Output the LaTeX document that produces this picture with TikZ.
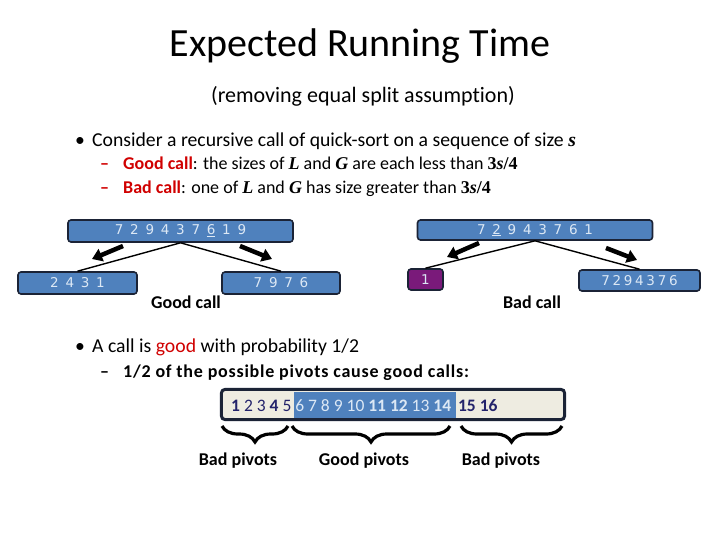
\documentclass[tikz,border=0pt]{standalone}
\usepackage{fontspec}
\setmainfont{Carlito}[Ligatures=NoCommon]
\newfontfamily\boxfont{DejaVu Sans}
\newfontfamily\serifvar{Liberation Serif}
\usepackage{xcolor}
\usepackage{tikz}
\usetikzlibrary{arrows.meta,positioning,decorations.pathreplacing}
\definecolor{BoxBlue}{HTML}{4F81BD}
\definecolor{BoxEdge}{HTML}{1B2336}
\definecolor{BoxText}{HTML}{DCE8F5}
\definecolor{PivPurple}{HTML}{7A1A7A}
\definecolor{BarBeige}{HTML}{EEECE1}
\definecolor{NumNavy}{HTML}{23236B}
\definecolor{CallRed}{HTML}{D00000}
\newcommand{\bvar}[1]{{\serifvar\bfseries\itshape #1}}
\newcommand{\bnum}[1]{{\serifvar\bfseries #1}}

\begin{document}
\begin{tikzpicture}[x=1pt,y=-1pt,
    seq/.style={draw=BoxEdge, fill=BoxBlue, rounded corners=3pt, line width=1.6pt,
                minimum height=22pt, inner sep=0pt, text=BoxText,
                font=\boxfont\fontsize{13.5}{13.5}\selectfont},
    piv/.style={seq, fill=PivPurple},
    split/.style={line width=1.4pt},
    move/.style={-{Triangle[width=13pt,length=10pt]}, line width=4.5pt},
    bullet/.style={anchor=base west, inner sep=0pt, font=\fontsize{19.7}{21}\selectfont},
    subitem/.style={anchor=base west, inner sep=0pt, font=\fontsize{18}{20}\selectfont},
    caption/.style={anchor=base, inner sep=0pt, font=\fontsize{18}{20}\selectfont\bfseries},
    brace/.style={decorate, decoration={brace, mirror, amplitude=16pt}, line width=3.2pt},
  ]
    \useasboundingbox (0,0) rectangle (720,540);

    % Title
    \node[anchor=base, inner sep=0pt, font=\fontsize{40}{44}\selectfont] (title) at (360,57) {Expected Running Time};
    \node[anchor=base, inner sep=0pt, font=\fontsize{22}{24}\selectfont] (subtitle) at (363,103) {(removing equal split assumption)};

    % First bullet
    \node[bullet] (b1dot) at (75,147) {\textbullet};
    \node[bullet] (b1) at (92,147) {Consider a recursive call of quick-sort on a sequence of size \bvar{s}};
    \node[subitem, text=CallRed] (s1dash) at (100,170) {\bfseries --};
    \node[subitem] (s1) at (123,170) {\textcolor{CallRed}{\bfseries Good call}: the sizes of \bvar{L} and \bvar{G} are each less than \bnum{3}\bvar{s}\bnum{/4}};
    \node[subitem, text=CallRed] (s2dash) at (100,194) {\bfseries --};
    \node[subitem] (s2) at (123,194) {\textcolor{CallRed}{\bfseries Bad call}: one of \bvar{L} and \bvar{G} has size greater than \bnum{3}\bvar{s}\bnum{/4}};

    % Good call
    \node[seq, minimum width=225pt] (gtop) at (180.5,231) {{\spaceskip=0.5em\relax 7 2 9 4 3 7 \underline{6} 1 9}};
    \node[seq, minimum width=119pt] (gless) at (77.5,283) {{\spaceskip=0.5em\relax 2 4 3 1}};
    \node[seq, minimum width=118pt] (gmore) at (281,283) {{\spaceskip=0.5em\relax 7 9 7 6}};
    \draw[split] (gtop.south) -- (gless.north);
    \draw[split] (gtop.south) -- (gmore.north);
    \draw[move] (123,246) -- (92,259);
    \draw[move] (240,246) -- (272,259);
    \node[caption] (goodlbl) at (186,308) {Good call};

    % Bad call
    \node[seq, minimum width=235pt, minimum height=20pt] (btop) at (535,230) {{\spaceskip=0.5em\relax 7 \underline{2} 9 4 3 7 6 1}};
    \node[piv, minimum width=35pt, minimum height=21pt] (bless) at (425.5,279.5) {1};
    \node[seq, minimum width=121pt, minimum height=21pt] (bmore) at (639.5,280.5) {{\spaceskip=0.2em\relax 7 2 9 4 3 7 6}};
    \draw[split] (btop.south) -- (bless.north);
    \draw[split] (btop.south) -- (bmore.north);
    \draw[move] (479,243) -- (447,257);
    \draw[move] (606,248) -- (637,260);
    \node[caption] (badlbl) at (532,308) {Bad call};

    % Second bullet
    \node[bullet] (b2dot) at (75,352) {\textbullet};
    \node[bullet] (b2) at (92,352) {A call is \textcolor{CallRed}{good} with probability 1/2};
    \node[subitem] (s3dash) at (100,377) {\bfseries --};
    \node[subitem] (s3) at (123,377) {\bfseries\addfontfeature{LetterSpace=4.2}1/2 of the possible pivots cause good calls:};

    % Pivot bar
    \node[fill=BarBeige, rounded corners=4pt, minimum width=343pt, minimum height=30pt, inner sep=0pt] (pbar) at (393,404.5) {};
    \fill[BoxBlue] (294,392) rectangle (456,417.5);
    \draw[BoxEdge, line width=3pt, rounded corners=4pt] (pbar.north west) rectangle (pbar.south east);
    \node[anchor=base west, inner sep=0pt, font=\fontsize{17.5}{18}\selectfont] (nums) at (231,411)
      {\textcolor{NumNavy}{\bfseries 1} \textcolor{NumNavy}{2 3 \bfseries 4} \textcolor{NumNavy}{5}
       \textcolor{BoxText}{6 7 8 9 10 {\bfseries 11 12} 13 {\bfseries 14}}\hspace{3pt}
       \textcolor{NumNavy}{\bfseries 15 16}};

    % Braces
    \coordinate (lb1) at (222,426);  \coordinate (lb2) at (288,426);
    \coordinate (mb1) at (292,426);  \coordinate (mb2) at (450,426);
    \coordinate (rb1) at (461,426);  \coordinate (rb2) at (562,426);
    \draw[brace] (lb1) -- (lb2);
    \draw[brace] (mb1) -- (mb2);
    \draw[brace] (rb1) -- (rb2);
    \node[caption] (badl) at (238,465) {Bad pivots};
    \node[caption] (goodm) at (364,465) {Good pivots};
    \node[caption] (badr) at (501,465) {Bad pivots};
\end{tikzpicture}
\end{document}
